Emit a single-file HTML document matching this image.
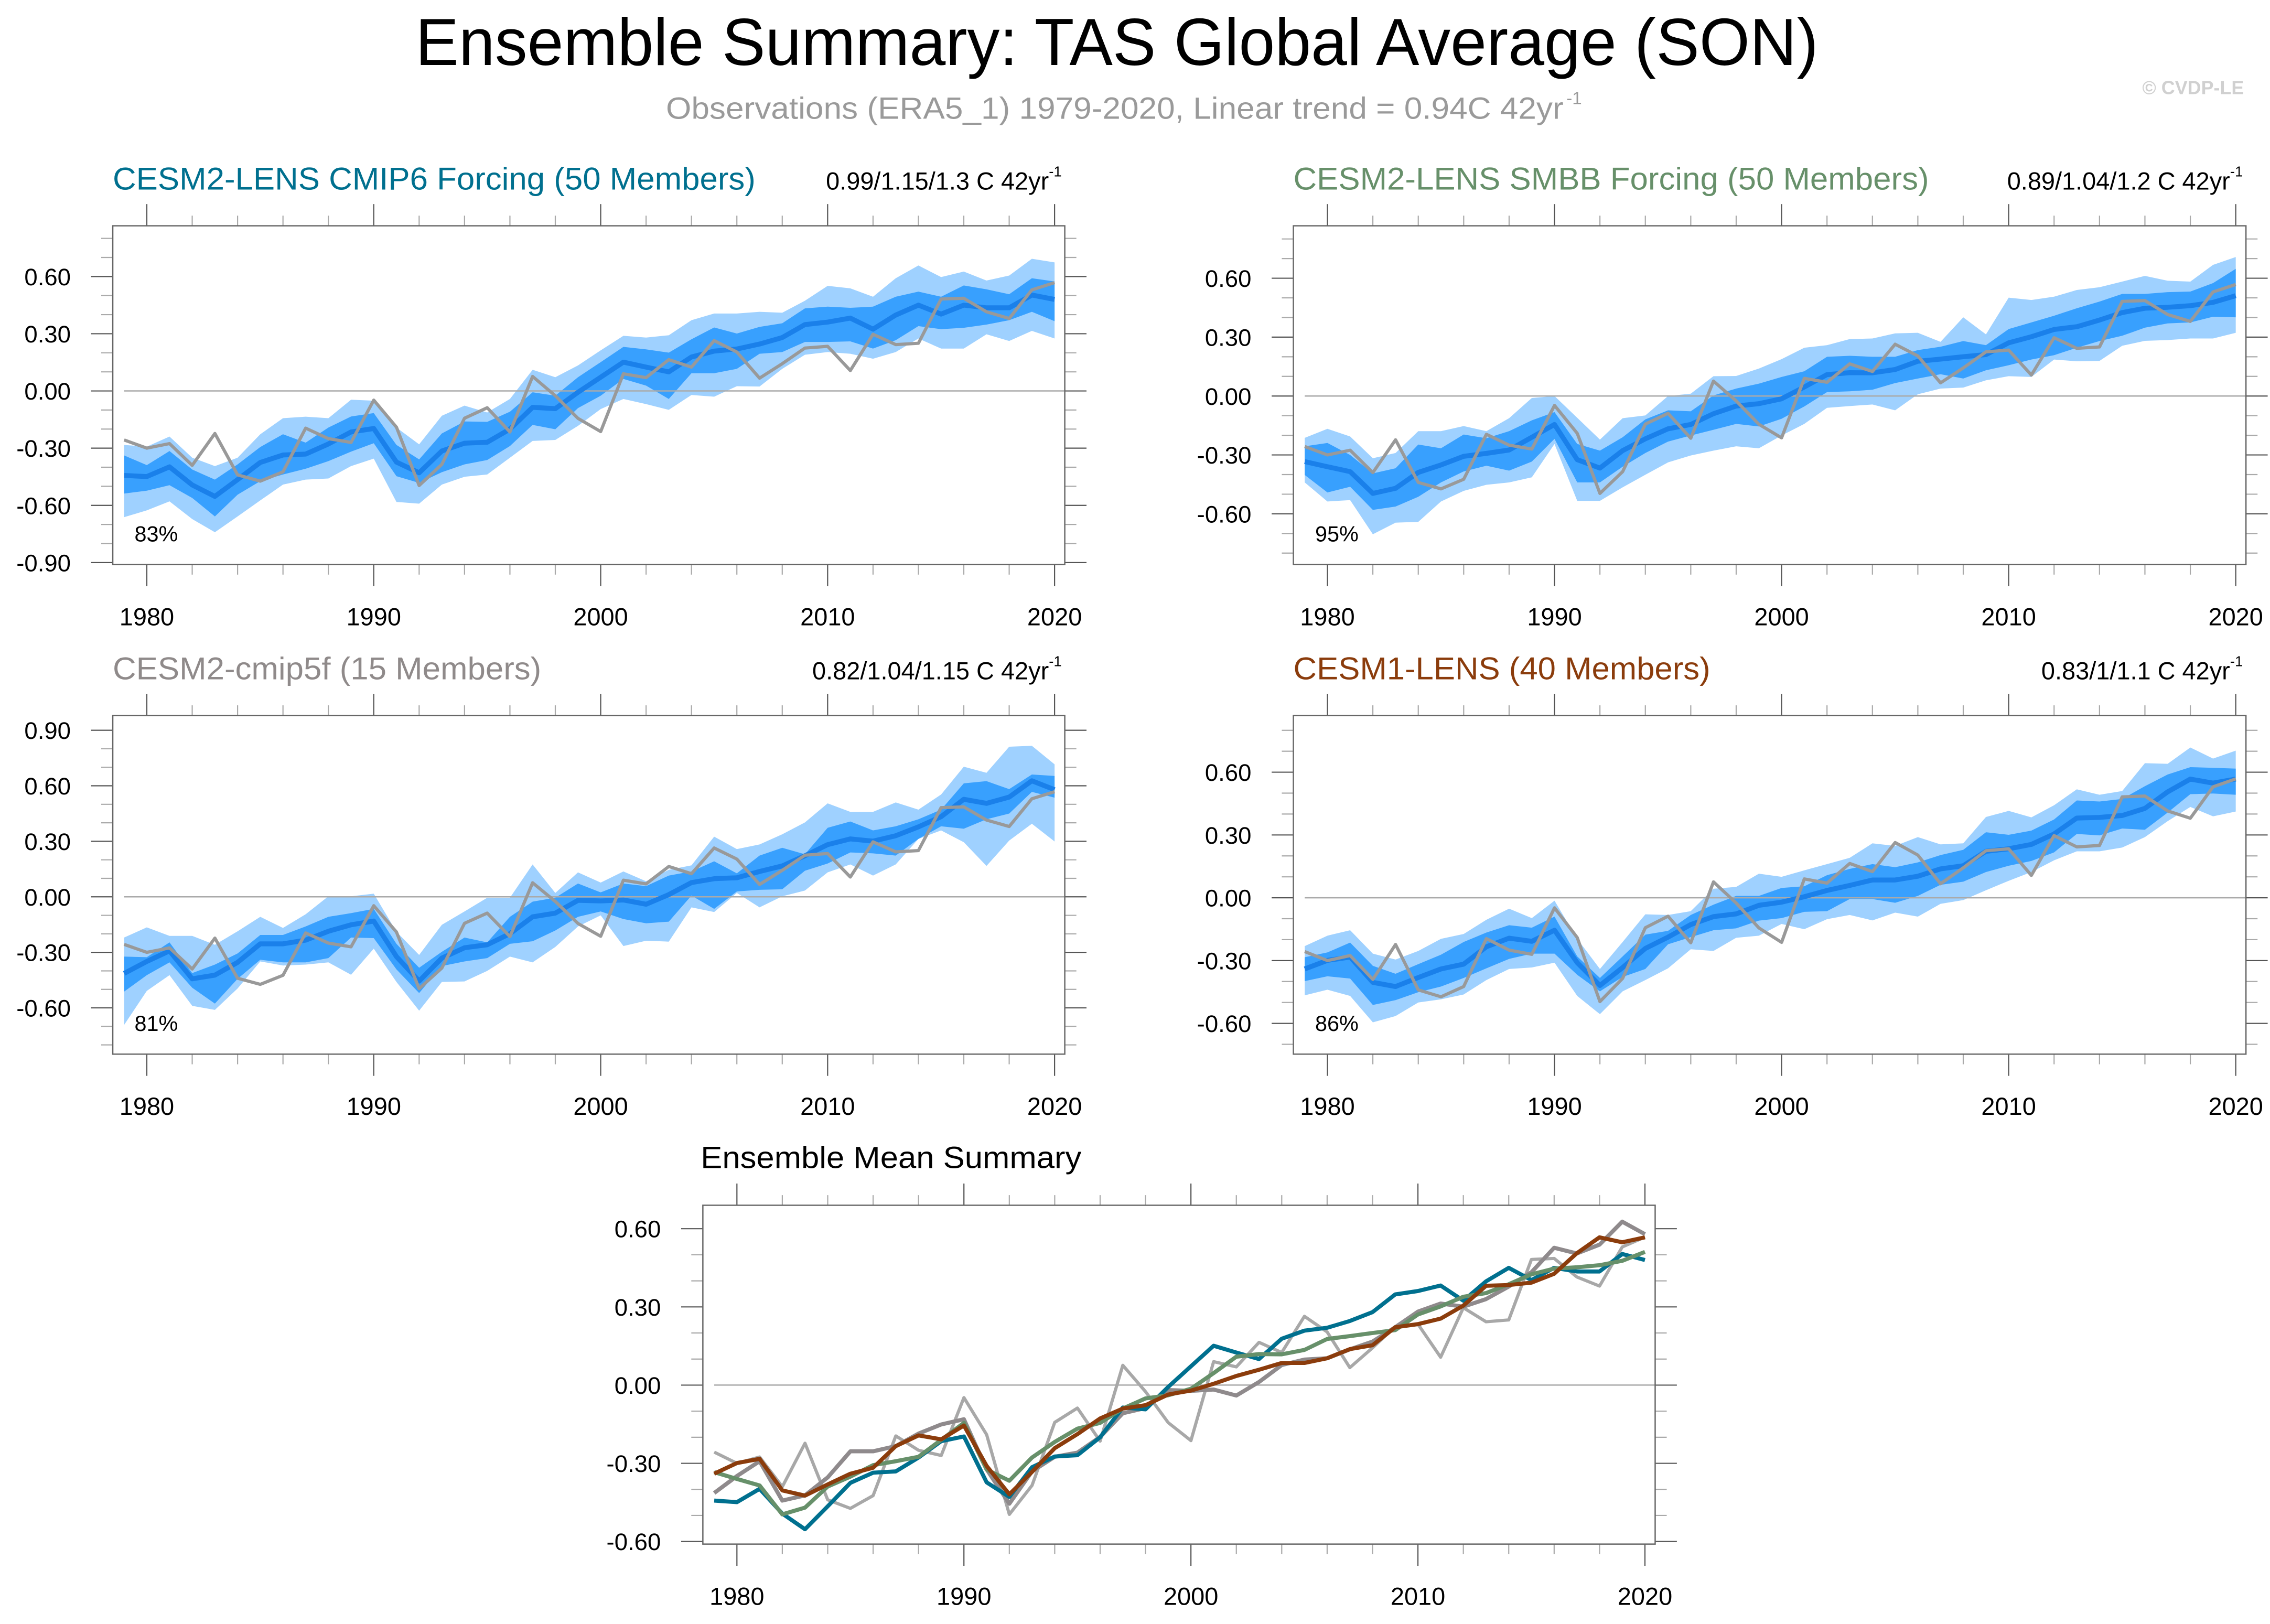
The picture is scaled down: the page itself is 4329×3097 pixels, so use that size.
<!DOCTYPE html>
<html><head><meta charset="utf-8"><style>
html,body{margin:0;padding:0;background:#fff;}
svg{display:block;font-family:"Liberation Sans",sans-serif;}
</style></head><body>
<svg id="fig" width="4329" height="3097" viewBox="0 0 1568 1122" preserveAspectRatio="none" xmlns="http://www.w3.org/2000/svg">
<rect width="1568" height="1122" fill="#fff"/>
<text x="771.5" y="45" font-size="46" text-anchor="middle" textLength="969" lengthAdjust="spacingAndGlyphs">Ensemble Summary: TAS Global Average (SON)</text>
<text x="460" y="82" font-size="21" fill="#9a9a9a" textLength="620" lengthAdjust="spacingAndGlyphs">Observations (ERA5_1) 1979-2020, Linear trend = 0.94C 42yr</text>
<text x="1082" y="72" font-size="12" fill="#9a9a9a">-1</text>
<text x="1550" y="65" font-size="13" font-weight="bold" fill="#d0d0d0" text-anchor="end">© CVDP-LE</text>
<g id="charts"></g>
</svg>
<script>
const years = [];
for (let y = 1979; y <= 2020; y++) years.push(y);
const obs = [-0.257,-0.30,-0.276,-0.39,-0.223,-0.44,-0.473,-0.424,-0.195,-0.25,-0.27,-0.048,-0.19,-0.496,-0.385,-0.143,-0.088,-0.215,0.076,-0.025,-0.144,-0.213,0.09,0.07,0.164,0.125,0.264,0.204,0.067,0.143,0.225,0.234,0.107,0.297,0.243,0.25,0.482,0.486,0.415,0.38,0.53,0.568];

const p1Mean = [-0.443,-0.449,-0.398,-0.493,-0.553,-0.465,-0.375,-0.336,-0.331,-0.278,-0.215,-0.197,-0.373,-0.429,-0.315,-0.274,-0.269,-0.2,-0.086,-0.093,-0.007,0.072,0.151,0.125,0.1,0.178,0.209,0.22,0.246,0.28,0.348,0.361,0.382,0.324,0.398,0.45,0.403,0.45,0.436,0.436,0.503,0.48];
const p1LightHi = [-0.283,-0.292,-0.239,-0.35,-0.394,-0.35,-0.227,-0.143,-0.135,-0.143,-0.046,-0.051,-0.192,-0.28,-0.13,-0.077,-0.113,-0.042,0.111,0.072,0.134,0.213,0.289,0.28,0.292,0.371,0.406,0.406,0.415,0.41,0.473,0.551,0.538,0.494,0.591,0.658,0.597,0.626,0.579,0.605,0.693,0.674];
const p1LightLo = [-0.662,-0.626,-0.579,-0.672,-0.741,-0.658,-0.574,-0.491,-0.465,-0.459,-0.394,-0.355,-0.582,-0.591,-0.491,-0.45,-0.438,-0.35,-0.262,-0.257,-0.183,-0.095,-0.042,-0.069,-0.099,-0.021,-0.03,0.025,0.023,0.116,0.19,0.204,0.195,0.169,0.204,0.275,0.222,0.222,0.297,0.262,0.315,0.275];
const p1DarkHi = [-0.338,-0.389,-0.315,-0.412,-0.465,-0.385,-0.294,-0.227,-0.271,-0.192,-0.134,-0.116,-0.283,-0.359,-0.223,-0.16,-0.162,-0.109,-0.007,-0.025,0.072,0.151,0.231,0.218,0.201,0.271,0.333,0.301,0.336,0.355,0.433,0.442,0.436,0.442,0.494,0.521,0.494,0.553,0.533,0.507,0.591,0.574];
const p1DarkLo = [-0.538,-0.523,-0.494,-0.561,-0.658,-0.544,-0.473,-0.438,-0.408,-0.368,-0.318,-0.274,-0.447,-0.482,-0.426,-0.385,-0.362,-0.289,-0.178,-0.201,-0.09,-0.025,0.063,0.028,-0.042,0.093,0.093,0.116,0.195,0.204,0.257,0.257,0.26,0.222,0.266,0.34,0.324,0.331,0.348,0.371,0.415,0.366];

const p2Mean = [-0.334,-0.36,-0.385,-0.496,-0.47,-0.389,-0.351,-0.307,-0.292,-0.275,-0.21,-0.145,-0.324,-0.367,-0.278,-0.218,-0.167,-0.145,-0.09,-0.051,-0.039,-0.014,0.046,0.109,0.119,0.118,0.135,0.177,0.188,0.2,0.211,0.271,0.302,0.339,0.353,0.387,0.425,0.447,0.452,0.46,0.477,0.511];
const p2LightHi = [-0.213,-0.167,-0.206,-0.317,-0.29,-0.179,-0.179,-0.153,-0.179,-0.113,-0.01,0,-0.111,-0.222,-0.113,-0.099,0,0.012,0.101,0.102,0.14,0.188,0.246,0.259,0.29,0.293,0.319,0.322,0.276,0.401,0.314,0.501,0.489,0.506,0.54,0.554,0.583,0.612,0.587,0.583,0.668,0.708];
const p2LightLo = [-0.44,-0.537,-0.53,-0.704,-0.645,-0.641,-0.537,-0.483,-0.452,-0.44,-0.414,-0.244,-0.534,-0.534,-0.465,-0.401,-0.338,-0.303,-0.278,-0.256,-0.266,-0.201,-0.142,-0.06,-0.051,-0.043,-0.073,0.009,0.038,0.043,0.08,0.101,0.097,0.186,0.177,0.179,0.256,0.281,0.285,0.293,0.293,0.322];
const p2DarkHi = [-0.256,-0.239,-0.3,-0.394,-0.368,-0.247,-0.266,-0.196,-0.215,-0.179,-0.124,-0.082,-0.244,-0.278,-0.21,-0.119,-0.073,-0.078,0.003,0.038,0.063,0.097,0.126,0.2,0.205,0.2,0.2,0.234,0.251,0.28,0.259,0.341,0.375,0.409,0.447,0.481,0.52,0.52,0.529,0.532,0.575,0.648];
const p2DarkLo = [-0.402,-0.491,-0.462,-0.58,-0.563,-0.513,-0.44,-0.384,-0.355,-0.38,-0.334,-0.218,-0.44,-0.44,-0.36,-0.29,-0.232,-0.201,-0.172,-0.142,-0.155,-0.116,-0.053,0.02,0.024,0.032,0.066,0.089,0.111,0.089,0.131,0.157,0.186,0.208,0.246,0.28,0.307,0.348,0.37,0.375,0.404,0.401];

const p3Mean = [-0.414,-0.349,-0.292,-0.443,-0.423,-0.354,-0.254,-0.254,-0.234,-0.186,-0.151,-0.131,-0.323,-0.455,-0.331,-0.275,-0.259,-0.199,-0.108,-0.088,-0.019,-0.022,-0.017,-0.04,0.012,0.077,0.098,0.103,0.137,0.167,0.222,0.282,0.313,0.301,0.33,0.378,0.433,0.527,0.505,0.539,0.627,0.579];
const p3LightHi = [-0.22,-0.165,-0.211,-0.211,-0.259,-0.186,-0.108,-0.168,-0.094,0.003,0.003,0.017,-0.189,-0.314,-0.151,-0.079,-0.005,-0.005,0.175,0.021,0.132,0.077,0.137,0.084,0.146,0.17,0.325,0.258,0.283,0.338,0.402,0.505,0.459,0.459,0.51,0.471,0.553,0.703,0.67,0.811,0.816,0.716];
const p3LightLo = [-0.692,-0.508,-0.423,-0.589,-0.611,-0.495,-0.349,-0.371,-0.366,-0.354,-0.421,-0.28,-0.46,-0.615,-0.46,-0.457,-0.4,-0.323,-0.354,-0.271,-0.16,-0.1,-0.266,-0.237,-0.242,-0.057,-0.082,0.021,-0.057,0.003,0.034,0.132,0.175,0.115,0.175,0.313,0.359,0.295,0.167,0.304,0.395,0.299];
const p3DarkHi = [-0.323,-0.326,-0.246,-0.412,-0.366,-0.306,-0.206,-0.206,-0.16,-0.108,-0.088,-0.065,-0.254,-0.383,-0.297,-0.22,-0.246,-0.108,-0.026,-0.005,0.072,0.024,0.072,0.058,0.115,0.137,0.192,0.127,0.223,0.265,0.23,0.373,0.407,0.359,0.381,0.419,0.471,0.613,0.625,0.582,0.661,0.653];
const p3DarkLo = [-0.512,-0.423,-0.354,-0.491,-0.577,-0.443,-0.34,-0.354,-0.354,-0.331,-0.22,-0.223,-0.392,-0.52,-0.374,-0.349,-0.331,-0.254,-0.24,-0.182,-0.108,-0.079,-0.12,-0.143,-0.134,0.007,-0.065,0.029,0.038,0.041,0.141,0.18,0.24,0.235,0.223,0.313,0.381,0.368,0.419,0.45,0.567,0.536];

const p4Mean = [-0.34,-0.299,-0.283,-0.404,-0.424,-0.381,-0.34,-0.317,-0.234,-0.193,-0.208,-0.155,-0.31,-0.419,-0.333,-0.242,-0.188,-0.128,-0.09,-0.077,-0.036,-0.021,0.005,0.035,0.059,0.085,0.085,0.103,0.138,0.153,0.222,0.234,0.255,0.305,0.381,0.384,0.393,0.427,0.506,0.567,0.548,0.567];
const p4LightHi = [-0.231,-0.181,-0.155,-0.267,-0.295,-0.254,-0.196,-0.173,-0.105,-0.052,-0.097,-0.014,-0.196,-0.34,-0.211,-0.079,-0.082,-0.064,0.043,0.052,0.115,0.1,0.131,0.161,0.191,0.26,0.248,0.29,0.255,0.26,0.386,0.415,0.384,0.442,0.518,0.492,0.51,0.643,0.64,0.718,0.665,0.703];
const p4LightLo = [-0.466,-0.439,-0.469,-0.595,-0.565,-0.5,-0.485,-0.462,-0.393,-0.34,-0.333,-0.31,-0.469,-0.556,-0.447,-0.393,-0.337,-0.246,-0.254,-0.191,-0.181,-0.125,-0.15,-0.102,-0.082,-0.108,-0.071,-0.09,-0.029,-0.011,0.036,0.081,0.123,0.179,0.222,0.222,0.24,0.29,0.366,0.434,0.389,0.412];
const p4DarkHi = [-0.284,-0.261,-0.214,-0.325,-0.363,-0.317,-0.272,-0.211,-0.166,-0.131,-0.143,-0.09,-0.28,-0.383,-0.28,-0.176,-0.158,-0.082,-0.033,0.009,0.009,0.047,0.055,0.108,0.138,0.161,0.146,0.169,0.204,0.229,0.313,0.301,0.321,0.374,0.465,0.46,0.472,0.533,0.589,0.624,0.621,0.617];
const p4DarkLo = [-0.398,-0.375,-0.386,-0.512,-0.489,-0.451,-0.424,-0.383,-0.337,-0.292,-0.267,-0.267,-0.368,-0.447,-0.378,-0.34,-0.222,-0.188,-0.155,-0.146,-0.109,-0.097,-0.067,-0.064,-0.006,-0.006,-0.024,0.009,0.062,0.077,0.123,0.153,0.176,0.217,0.305,0.298,0.331,0.325,0.407,0.495,0.498,0.492];

const xTickYears = [1980,1990,2000,2010,2020];
const ticks1 = [-0.9,-0.6,-0.3,0,0.3,0.6];
const ticks2 = [-0.6,-0.3,0,0.3,0.6];
const ticks3 = [-0.6,-0.3,0,0.3,0.6,0.9];
const ticks4 = [-0.6,-0.3,0,0.3,0.6];
const ticks5 = [-0.6,-0.3,0,0.3,0.6];
const titles = ["CESM2-LENS CMIP6 Forcing (50 Members)","CESM2-LENS SMBB Forcing (50 Members)","CESM2-cmip5f (15 Members)","CESM1-LENS (40 Members)"];
const trends = ["0.99/1.15/1.3 C 42yr","0.89/1.04/1.2 C 42yr","0.82/1.04/1.15 C 42yr","0.83/1/1.1 C 42yr"];
const pcts = ["83%","95%","81%","86%"];

const NS = "http://www.w3.org/2000/svg";
const root = document.getElementById('charts');
function mk(tag, attrs, parent) {
  const e = document.createElementNS(NS, tag);
  for (const k in attrs) e.setAttribute(k, attrs[k]);
  (parent || root).appendChild(e);
  return e;
}
function fmt(v){ return v.toFixed(2); }

function panel(key, geo, yTicks, minorLo, minorHi) {
  const g = mk('g', {});
  
  
  const xs = yr => geo.x0 + (yr - 1978.5) / (2020.45 - 1978.5) * (geo.x1 - geo.x0);
  const ys = v => geo.y0 + (geo.vmax - v) / (geo.vmax - geo.vmin) * (geo.y1 - geo.y0);
  for (let yr = 1980; yr <= 2020; yr += 2) {
    const major = (yr % 10 === 0);
    const len = major ? 15 : 7;
    const col = major ? '#555' : '#aaa';
    const t1 = mk('line', {x1: xs(yr), x2: xs(yr), y1: geo.y0 - len, y2: geo.y0, stroke: col, 'stroke-width': 0.8}, g);
    
    
    const t2 = mk('line', {x1: xs(yr), x2: xs(yr), y1: geo.y1, y2: geo.y1 + len, stroke: col, 'stroke-width': 0.8}, g);
    
    
  }
  for (let i = Math.round(minorLo * 10); i <= Math.round(minorHi * 10); i++) {
    const v = i / 10;
    const major = (i % 3 === 0);
    const len = major ? 15 : 8;
    const col = major ? '#555' : '#aaa';
    const t1 = mk('line', {x1: geo.x0 - len, x2: geo.x0, y1: ys(v), y2: ys(v), stroke: col, 'stroke-width': 0.8}, g);
    
    
    const t2 = mk('line', {x1: geo.x1, x2: geo.x1 + len, y1: ys(v), y2: ys(v), stroke: col, 'stroke-width': 0.8}, g);
    
    
  }
  for (const yr of xTickYears) {
    const t = mk('text', {x: xs(yr), y: geo.y1 + 42, 'font-size': 17, 'text-anchor': 'middle'}, g);
    t.textContent = yr;
    
    
  }
  for (const v of yTicks) {
    const t = mk('text', {x: geo.x0 - 29, y: ys(v) + 6, 'font-size': 16.5, 'text-anchor': 'end'}, g);
    t.textContent = fmt(v);
    
    
  }
  return {g, xs, ys};
}
function band(g, xs, ys, hi, lo, fill, name) {
  let d = '';
  years.forEach((yr, i) => { d += (i ? 'L' : 'M') + xs(yr).toFixed(2) + ',' + ys(hi[i]).toFixed(2); });
  for (let i = years.length - 1; i >= 0; i--) d += 'L' + xs(years[i]).toFixed(2) + ',' + ys(lo[i]).toFixed(2);
  const p = mk('path', {d: d + 'Z', fill: fill}, g);
  
  
}
function line(g, xs, ys, vals, col, w, name) {
  const pts = years.map((yr, i) => xs(yr).toFixed(2) + ',' + ys(vals[i]).toFixed(2)).join(' ');
  const p = mk('polyline', {points: pts, fill: 'none', stroke: col, 'stroke-width': w, 'stroke-linejoin': 'round'}, g);
  
  
}
function frame(g, geo, xs, ys) {
  const z = mk('line', {x1: xs(1979), x2: geo.x1, y1: ys(0), y2: ys(0), stroke: '#aaa', 'stroke-width': 0.9}, g);
  
  
}
function border(g, geo) {
  const r = mk('rect', {x: geo.x0, y: geo.y0, width: geo.x1 - geo.x0, height: geo.y1 - geo.y0, fill: 'none', stroke: '#666', 'stroke-width': 0.9}, g);
  
  
}

const geos = [
  {x0: 77.9, x1: 735.5, y0: 156, y1: 390, vmin: -0.91, vmax: 0.866},
  {x0: 893.4, x1: 1551.4, y0: 156, y1: 390, vmin: -0.858, vmax: 0.867},
  {x0: 77.9, x1: 735.5, y0: 494.3, y1: 728.3, vmin: -0.85, vmax: 0.98},
  {x0: 893.4, x1: 1551.4, y0: 494.3, y1: 728.3, vmin: -0.747, vmax: 0.871}
];
const titleWidths = [444, 439, 296, 288];
const tickSets = [ticks1, ticks2, ticks3, ticks4];
const minorRanges = [[-0.9,0.8],[-0.8,0.8],[-0.8,0.9],[-0.7,0.8]];
const titleCols = ['#00708f','#67906a','#8f8a8a','#8b3c0c'];
const bands = [
  [p1Mean,p1LightHi,p1LightLo,p1DarkHi,p1DarkLo],
  [p2Mean,p2LightHi,p2LightLo,p2DarkHi,p2DarkLo],
  [p3Mean,p3LightHi,p3LightLo,p3DarkHi,p3DarkLo],
  [p4Mean,p4LightHi,p4LightLo,p4DarkHi,p4DarkLo]
];
const keys = ['cesm2-cmip6','cesm2-smbb','cesm2-cmip5f','cesm1-lens'];
for (let k = 0; k < 4; k++) {
  const geo = geos[k];
  const {g, xs, ys} = panel(keys[k], geo, tickSets[k], minorRanges[k][0], minorRanges[k][1]);
  const [mean, lh, ll, dh, dl] = bands[k];
  band(g, xs, ys, lh, ll, '#9fd1ff', 'spread-band-light');
  band(g, xs, ys, dh, dl, '#38a0fe', 'spread-band-dark');
  frame(g, geo, xs, ys);
  line(g, xs, ys, mean, '#1a80ea', 3.4, 'ensemble-mean-line');
  line(g, xs, ys, obs, '#999999', 2.2, 'observations-line');
  border(g, geo);
  const t = mk('text', {x: geo.x0, y: geo.y0 - 25, 'font-size': 22, fill: titleCols[k], textLength: titleWidths[k], lengthAdjust: 'spacingAndGlyphs'}, g);
  t.textContent = titles[k];
  
  
  const tr = mk('text', {x: geo.x1 - 11, y: geo.y0 - 25, 'font-size': 17, 'text-anchor': 'end'}, g);
  tr.textContent = trends[k];
  
  
  const sup = mk('text', {x: geo.x1 - 11, y: geo.y0 - 34, 'font-size': 10}, g);
  sup.textContent = '-1';
  
  
  const pc = mk('text', {x: geo.x0 + 15, y: geo.y1 - 16, 'font-size': 15}, g);
  pc.textContent = pcts[k];
  
  
}
{
  const geo = {x0: 485.5, x1: 1143.3, y0: 832.7, y1: 1066.8, vmin: -0.61, vmax: 0.69};
  const {g, xs, ys} = panel('ensemble-mean-summary', geo, ticks5, -0.6, 0.6);
  frame(g, geo, xs, ys);
  line(g, xs, ys, obs, '#a8a8a8', 2.2, 'summary-observations-line');
  line(g, xs, ys, p3Mean, '#8f8a8c', 2.8, 'summary-cesm2-cmip5f-line');
  line(g, xs, ys, p1Mean, '#00708f', 2.8, 'summary-cesm2-cmip6-line');
  line(g, xs, ys, p2Mean, '#67906a', 2.8, 'summary-cesm2-smbb-line');
  line(g, xs, ys, p4Mean, '#8b3c0c', 2.8, 'summary-cesm1-lens-line');
  border(g, geo);
  const t = mk('text', {x: 484, y: 807, 'font-size': 21, textLength: 263, lengthAdjust: 'spacingAndGlyphs'}, g);
  t.textContent = 'Ensemble Mean Summary';
  
  
}
</script>
</body></html>
